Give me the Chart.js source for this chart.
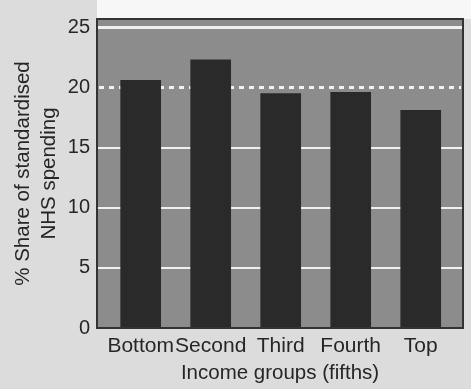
<!DOCTYPE html>
<html>
<head>
<meta charset="utf-8">
<script src="https://cdn.jsdelivr.net/npm/chart.js@4"></script>
<style>
  html, body { margin: 0; padding: 0; background: #dcdcdc; }
  #wrap { width: 471px; height: 389px; }
</style>
</head>
<body>
<div id="wrap"><canvas id="nhsChart" width="471" height="389"></canvas></div>
<script>
    // 소득 5분위별 NHS 지출 비중
    const categories = ['Bottom', 'Second', 'Third', 'Fourth', 'Top'];
    const shareValues = [20.6, 22.3, 19.5, 19.6, 18.1];
    const yTicks = [0, 5, 10, 15, 20, 25];
    const dottedAt = 20;

    const textColor = '#262626';
    const fontFamily = '"Liberation Sans", Arial, Helvetica, sans-serif';

    // 플롯 배경, 20% 점선, 테두리
    const plotDeco = {
        id: 'plotDeco',
        beforeDraw(chart) {
            const {ctx, chartArea: a} = chart;
            ctx.save();
            ctx.fillStyle = '#f7f7f7';
            ctx.fillRect(a.left, 0, chart.width - a.left, a.top);
            ctx.fillStyle = '#8c8c8c';
            ctx.fillRect(a.left, a.top, a.right - a.left, a.bottom - a.top);
            ctx.restore();
        },
        beforeDatasetsDraw(chart) {
            const {ctx, chartArea: a, scales} = chart;
            const y = scales.y.getPixelForValue(dottedAt);
            ctx.save();
            ctx.strokeStyle = '#f2f2f2';
            ctx.lineWidth = 3;
            ctx.setLineDash([5, 5]);
            ctx.beginPath();
            ctx.moveTo(a.left + 2, y);
            ctx.lineTo(a.right - 2, y);
            ctx.stroke();
            ctx.restore();
        },
        afterDatasetsDraw(chart) {
            const {ctx, chartArea: a} = chart;
            ctx.save();
            ctx.strokeStyle = '#333333';
            ctx.lineWidth = 2;
            ctx.strokeRect(a.left, a.top, a.right - a.left, a.bottom - a.top);
            ctx.restore();
        }
    };

    const ctx = document.getElementById('nhsChart').getContext('2d');
    const nhsChart = new Chart(ctx, {
        type: 'bar',
        data: {
            datasets: [{
                data: shareValues.map((v, i) => ({x: i, y: v})),
                backgroundColor: '#2a2a2a',
                borderWidth: 0,
                barThickness: 40
            }]
        },
        options: {
            responsive: false,
            animation: false,
            layout: { padding: { left: 0, right: 8, top: 7, bottom: 0 } },
            scales: {
                x: {
                    type: 'linear',
                    offset: false,
                    min: -0.624,
                    max: 4.604,
                    afterBuildTicks: (scale) => {
                        scale.ticks = categories.map((c, i) => ({value: i}));
                    },
                    afterFit: (scale) => { scale.height = 61; },
                    grid: { display: false, offset: false },
                    border: { display: false },
                    ticks: {
                        autoSkip: false,
                        maxRotation: 0,
                        padding: -2,
                        color: textColor,
                        font: { family: fontFamily, size: 21 },
                        callback: (v) => categories[v] ?? ''
                    },
                    title: {
                        display: true,
                        text: 'Income groups (fifths)',
                        color: textColor,
                        font: { family: fontFamily, size: 20.5 },
                        padding: { top: 0, bottom: 3 }
                    }
                },
                y: {
                    min: 0,
                    max: 25.7,
                    afterBuildTicks: (scale) => {
                        scale.ticks = yTicks.map(v => ({value: v}));
                    },
                    afterFit: (scale) => { scale.width = 97; },
                    grid: {
                        drawTicks: false,
                        // 20 줄은 점선으로 따로 그림
                        color: (c) => (c.tick && (c.tick.value === 0 || c.tick.value === dottedAt)) ? 'rgba(0,0,0,0)' : '#f0f0f0',
                        lineWidth: (c) => (c.tick && c.tick.value === 25) ? 3 : 2
                    },
                    border: { display: false },
                    ticks: {
                        padding: 7,
                        color: textColor,
                        font: { family: fontFamily, size: 20 }
                    },
                    title: {
                        display: true,
                        text: ['% Share of standardised', 'NHS spending'],
                        color: textColor,
                        font: { family: fontFamily, size: 20.5, lineHeight: 1.27 },
                        padding: { top: 10, bottom: 0 }
                    }
                }
            },
            plugins: {
                legend: { display: false },
                tooltip: { enabled: false }
            }
        },
        plugins: [plotDeco]
    });
</script>
</body>
</html>
